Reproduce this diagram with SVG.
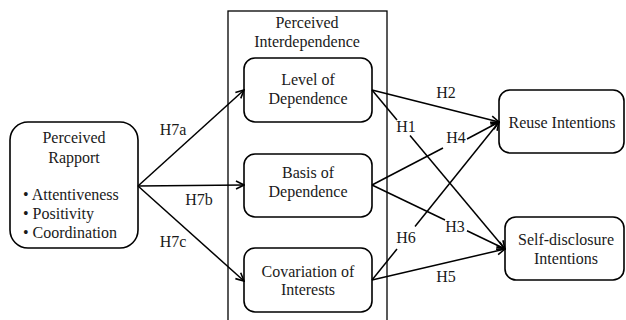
<svg xmlns="http://www.w3.org/2000/svg" width="626" height="320" viewBox="0 0 626 320">
<defs>
<marker id="arr" markerWidth="10" markerHeight="10" refX="9" refY="5" orient="auto" markerUnits="userSpaceOnUse">
<path d="M1,1 L9,5 L1,9" fill="none" stroke="#000" stroke-width="1.6"/>
</marker>
<style>
text{font-family:"Liberation Serif","Times New Roman",serif;font-size:16px;fill:#1a1a1a;text-anchor:middle}
.box{fill:#fff;stroke:#000;stroke-width:1.6}
.ln{stroke:#000;stroke-width:1.5;fill:none}
.ar{marker-end:url(#arr)}
</style>
</defs>
<rect width="626" height="320" fill="#fff"/>
<g id="interdependence">
<rect x="228" y="11" width="159" height="320" fill="none" stroke="#000" stroke-width="1.3"/>
<text x="307" y="28">Perceived</text>
<text x="307" y="47">Interdependence</text>
</g>
<g id="rapport">
<rect class="box" x="10" y="122" width="128" height="126" rx="18"/>
<text x="74" y="143">Perceived</text>
<text x="74" y="163">Rapport</text>
<text x="23" y="200" style="text-anchor:start">• Attentiveness</text>
<text x="23" y="219" style="text-anchor:start">• Positivity</text>
<text x="23" y="238" style="text-anchor:start">• Coordination</text>
</g>
<g id="level">
<rect class="box" x="244" y="58" width="128" height="64" rx="11"/>
<text x="308" y="85">Level of</text>
<text x="308" y="104">Dependence</text>
</g>
<g id="basis">
<rect class="box" x="244" y="154" width="128" height="63" rx="11"/>
<text x="308" y="178">Basis of</text>
<text x="308" y="197">Dependence</text>
</g>
<g id="covariation">
<rect class="box" x="244" y="248" width="128" height="64" rx="11"/>
<text x="308" y="277">Covariation of</text>
<text x="308" y="295">Interests</text>
</g>
<g id="reuse">
<rect class="box" x="499" y="90" width="125" height="63" rx="11"/>
<text x="562" y="128">Reuse Intentions</text>
</g>
<g id="selfdisclosure">
<rect class="box" x="505" y="217" width="119" height="63" rx="11"/>
<text x="566" y="245">Self-disclosure</text>
<text x="566" y="264">Intentions</text>
</g>
<g id="connectors">
<line class="ln ar" x1="138" y1="186" x2="244" y2="90"/>
<line class="ln ar" x1="138" y1="186" x2="244" y2="185"/>
<line class="ln ar" x1="138" y1="186" x2="244" y2="281"/>
<line class="ln ar" x1="372" y1="90" x2="499" y2="122"/>
<line class="ln" x1="372" y1="90" x2="397" y2="120"/>
<line class="ln ar" x1="410" y1="135.5" x2="505" y2="249"/>
<line class="ln" x1="372" y1="185" x2="443" y2="148"/>
<line class="ln ar" x1="467" y1="139" x2="499" y2="122"/>
<line class="ln" x1="372" y1="185" x2="445" y2="220"/>
<line class="ln ar" x1="467" y1="230.7" x2="505" y2="249"/>
<line class="ln" x1="372" y1="280" x2="397" y2="249"/>
<line class="ln ar" x1="415" y1="226.5" x2="499" y2="122"/>
<line class="ln ar" x1="372" y1="280" x2="505" y2="249"/>
<text x="173" y="135">H7a</text>
<text x="199" y="205">H7b</text>
<text x="173" y="247">H7c</text>
<text x="446" y="98">H2</text>
<text x="406" y="132">H1</text>
<text x="456" y="143">H4</text>
<text x="455" y="232">H3</text>
<text x="406" y="243">H6</text>
<text x="446" y="282">H5</text>
</g>
</svg>
